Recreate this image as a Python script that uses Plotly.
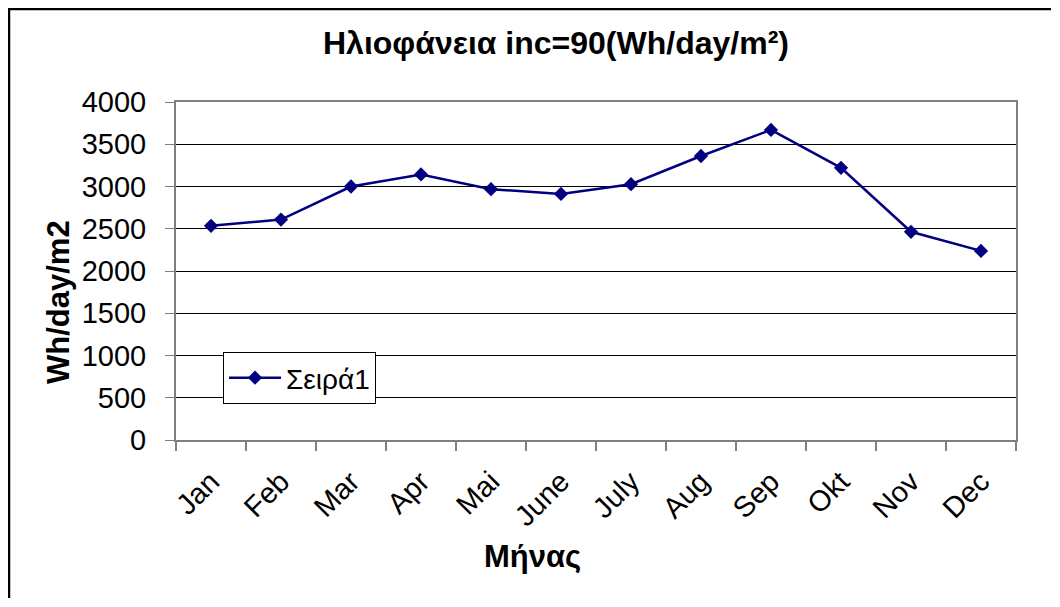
import plotly.graph_objects as go

months = ["Jan", "Feb", "Mar", "Apr", "Mai", "June", "July", "Aug", "Sep", "Okt", "Nov", "Dec"]
values = [2535, 2608, 3000, 3143, 2968, 2912, 3027, 3361, 3670, 3221, 2464, 2238]
series_name = "Σειρά1"
y_ticks = [0, 500, 1000, 1500, 2000, 2500, 3000, 3500, 4000]

OFF = 8  # default page body margin
W, H = 1060 - 2 * OFF, 607 - 2 * OFF
L, T = 176 - OFF, 102 - OFF
R, B = W - (1016 - OFF), H - (440 - OFF)
PW, PH = W - L - R, H - T - B


def px_x(px):
    return (px - OFF - L) / PW


def px_y(py):
    return (H - B - (py - OFF)) / PH


FONT = "Liberation Sans, Arial, sans-serif"

fig = go.Figure()
fig.add_trace(go.Scatter(
    x=months, y=values, name=series_name, mode="lines+markers",
    line=dict(color="#000080", width=2.5),
    marker=dict(symbol="diamond", size=11, color="#000080"),
    showlegend=True,
))

fig.update_layout(
    width=W, height=H,
    margin=dict(l=L, r=R, t=T, b=B, pad=0),
    paper_bgcolor="white", plot_bgcolor="white",
    font=dict(family=FONT, size=29, color="black"),
    showlegend=True,
    legend=dict(
        x=px_x(223), y=px_y(352), xanchor="left", yanchor="top",
        bgcolor="white", bordercolor="black", borderwidth=1,
        font=dict(size=28), itemwidth=52, tracegroupgap=0,
    ),
    xaxis=dict(
        type="category", range=[-0.5, len(months) - 0.5],
        showline=True, linecolor="#808080", linewidth=2, mirror=True,
        showgrid=False, ticks="outside", tickson="boundaries",
        ticklen=9, tickcolor="#808080", tickwidth=1.5,
        tickangle=-45, tickfont=dict(size=29), ticklabelstandoff=11,
    ),
    yaxis=dict(
        range=[0, 4000], tickvals=y_ticks, ticktext=[str(v) for v in y_ticks],
        showline=True, linecolor="#808080", linewidth=2, mirror=True,
        showgrid=True, gridcolor="black", gridwidth=1,
        ticks="outside", ticklen=9, tickcolor="#808080", tickwidth=1,
        tickfont=dict(size=29), ticklabelstandoff=13, zeroline=False,
    ),
    annotations=[
        dict(text="<b>Ηλιοφάνεια inc=90(Wh/day/m²)</b>", xref="paper", yref="paper",
             x=px_x(556), y=px_y(43), xanchor="center", yanchor="middle",
             showarrow=False, font=dict(size=32, family=FONT)),
        dict(text="<b>Wh/day/m2</b>", xref="paper", yref="paper",
             x=px_x(58), y=px_y(302), xanchor="center", yanchor="middle",
             textangle=-90, showarrow=False, font=dict(size=31, family=FONT)),
        dict(text="<b>Μήνας</b>", xref="paper", yref="paper",
             x=px_x(532), y=px_y(556), xanchor="center", yanchor="middle",
             showarrow=False, font=dict(size=31, family=FONT)),
    ],
    shapes=[
        dict(type="line", xref="paper", yref="paper",
             x0=px_x(9), x1=px_x(9), y0=px_y(8), y1=px_y(598),
             line=dict(color="black", width=2.5)),
        dict(type="line", xref="paper", yref="paper",
             x0=px_x(8), x1=px_x(1051), y0=px_y(9), y1=px_y(9),
             line=dict(color="black", width=2.5)),
    ],
)

fig.write_html("out.html")
